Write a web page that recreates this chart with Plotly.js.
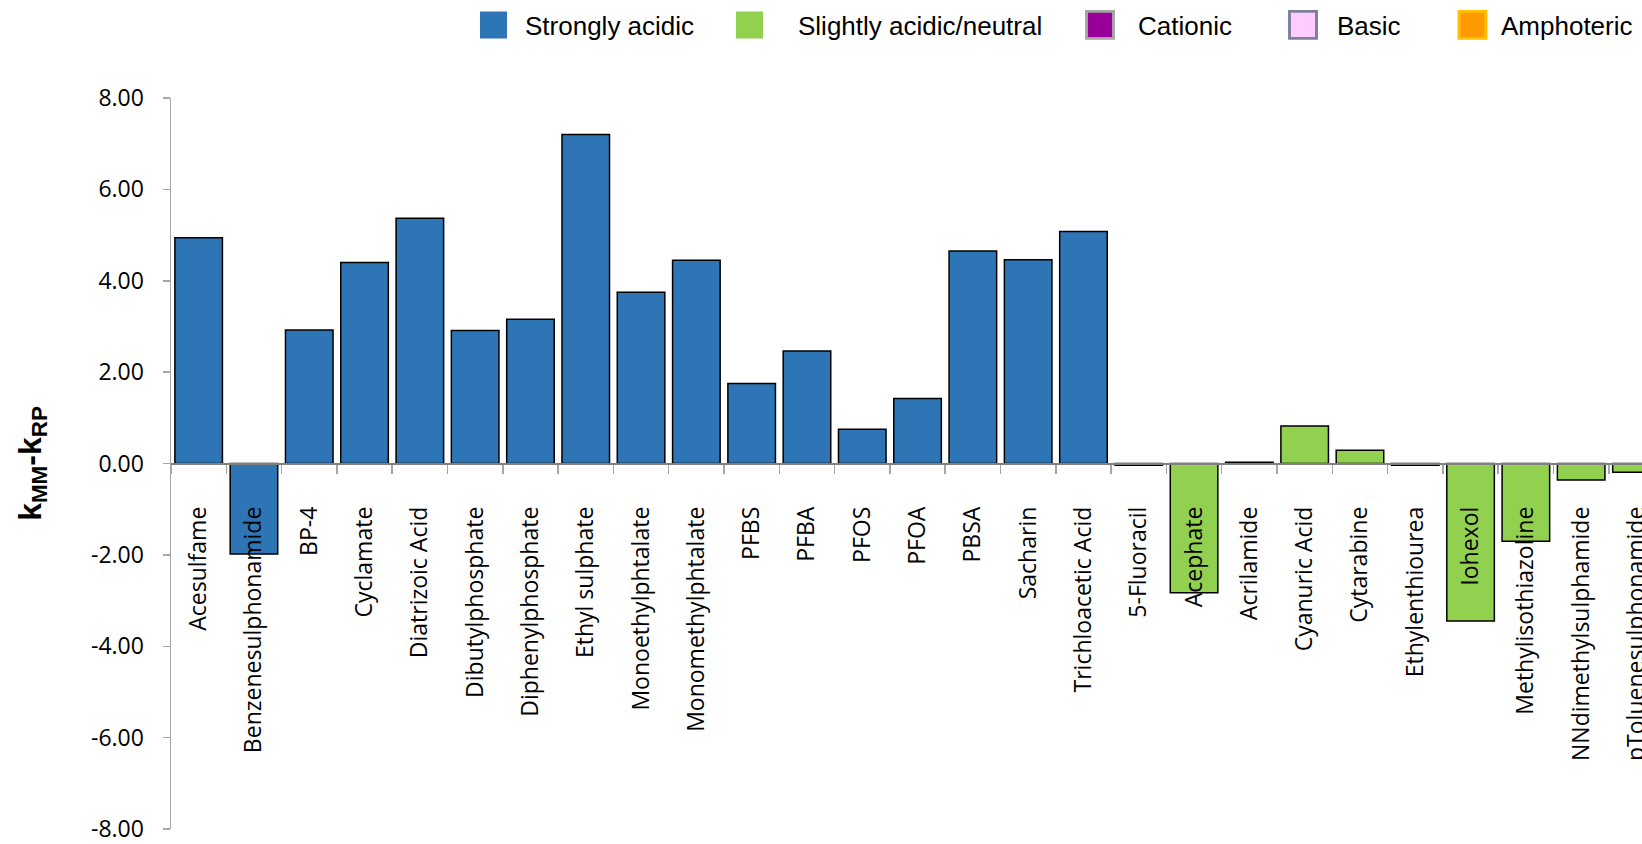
<!DOCTYPE html>
<html>
<head>
<meta charset="utf-8">
<script src="https://cdn.plot.ly/plotly-3.0.1.min.js"></script>
<style>
html, body { margin: 0; padding: 0; background: #ffffff; }
#chart { width: 1642px; height: 844px; }
</style>
</head>
<body>
<div id="chart"></div>
<script>
// ---- Data ----
const strongCats = ['Acesulfame', 'Benzenesulphonamide', 'BP-4', 'Cyclamate', 'Diatrizoic Acid',
  'Dibutylphosphate', 'Diphenylphosphate', 'Ethyl sulphate', 'Monoethylphtalate', 'Monomethylphtalate',
  'PFBS', 'PFBA', 'PFOS', 'PFOA', 'PBSA', 'Sacharin', 'Trichloacetic Acid'];
const strongVals = [4.94, -1.98, 2.92, 4.40, 5.37, 2.91, 3.16, 7.20, 3.75, 4.45,
  1.75, 2.46, 0.75, 1.42, 4.65, 4.46, 5.08];

const neutralCats = ['5-Fluoracil', 'Acephate', 'Acrilamide', 'Cyanuric Acid', 'Cytarabine',
  'Ethylenthiourea', 'Iohexol', 'Methylisothiazoline', 'NNdimethylsulphamide', 'pToluenesulphonamide'];
const neutralVals = [-0.04, -2.83, 0.03, 0.82, 0.29, -0.04, -3.45, -1.70, -0.36, -0.19];

const legendNames = ['Strongly acidic', 'Slightly acidic/neutral', 'Cationic', 'Basic', 'Amphoteric'];
const legendFill = ['#2E75B6', '#92D050', '#990099', '#FFCCFF', '#FF9900'];
const legendEdge = ['#2E75B6', '#92D050', '#A6A6A6', '#7F7F9F', '#FFC000'];

const yTickVals = [-8, -6, -4, -2, 0, 2, 4, 6, 8];
const yTickText = ['-8.00', '-6.00', '-4.00', '-2.00', '0.00', '2.00', '4.00', '6.00', '8.00'];

const allCats = strongCats.concat(neutralCats);

// ---- Traces ----
const traces = [
  {
    type: 'bar', x: strongCats, y: strongVals, name: legendNames[0], showlegend: false,
    marker: { color: legendFill[0], line: { color: '#000000', width: 1.5 } }
  },
  {
    type: 'bar', x: neutralCats, y: neutralVals, name: legendNames[1], showlegend: false,
    marker: { color: legendFill[1], line: { color: '#000000', width: 1.5 } }
  }
];
const legendIds = ['legend', 'legend2', 'legend3', 'legend4', 'legend5'];
legendNames.forEach((nm, i) => {
  traces.push({
    type: 'bar', x: [null], y: [null], name: nm, showlegend: true, legend: legendIds[i],
    marker: { color: legendFill[i], line: { color: legendEdge[i], width: (i < 2 ? 0 : 1.3) } }
  });
});

// ---- Layout ----
const legendLeft = [462, 701, 1062, 1269, 1444];
const legendItemW = [53, 87, 66, 58, 47];
const layout = {
  width: 1642, height: 844,
  margin: { l: 171, r: 0, t: 98, b: 15 },
  paper_bgcolor: '#ffffff', plot_bgcolor: '#ffffff',
  barmode: 'overlay', bargap: 0.14,
  hovermode: false,
  font: { family: 'Open Sans', size: 23, color: '#000000' },
  xaxis: {
    type: 'category', categoryorder: 'array', categoryarray: allCats,
    range: [-0.5, 26.1],
    anchor: 'free', position: 0.5,
    showline: true, linecolor: '#808080', linewidth: 2,
    ticks: 'outside', tickson: 'boundaries', ticklen: 9, tickwidth: 1.5, tickcolor: '#A6A6A6',
    tickangle: -90, ticklabelstandoff: 33,
    tickfont: { family: 'Open Sans', size: 23, color: '#000000' },
    showgrid: false, zeroline: false, automargin: false
  },
  yaxis: {
    range: [-8, 8], tickmode: 'array', tickvals: yTickVals, ticktext: yTickText,
    showline: true, linecolor: '#A6A6A6', linewidth: 1.5,
    ticks: 'outside', ticklen: 7, tickwidth: 1.5, tickcolor: '#A6A6A6',
    ticklabelstandoff: 14, ticklabeloverflow: 'allow',
    tickfont: { family: 'Open Sans', size: 23, color: '#000000' },
    showgrid: false, zeroline: false, automargin: false,
    title: {
      text: '<b>k<sub>MM</sub>-k<sub>RP</sub></b>',
      font: { family: 'Liberation Sans', size: 32, color: '#000000' },
      standoff: 40
    }
  }
};
legendIds.forEach((id, i) => {
  layout[id] = {
    xref: 'container', yref: 'container',
    x: legendLeft[i] / 1642, xanchor: 'left',
    y: 1 - 25 / 844, yanchor: 'middle',
    orientation: 'h', itemwidth: legendItemW[i],
    bgcolor: 'rgba(0,0,0,0)', borderwidth: 0,
    font: { family: 'Liberation Sans', size: 26, color: '#000000' }
  };
});

Plotly.newPlot('chart', traces, layout, { staticPlot: true, displayModeBar: false }).then(() => {
  document.querySelectorAll('g.legendpoints path').forEach(p => {
    const t = p.getAttribute('transform') || '';
    p.setAttribute('transform', t + ' scale(2.25)');
  });
});
</script>
</body>
</html>
